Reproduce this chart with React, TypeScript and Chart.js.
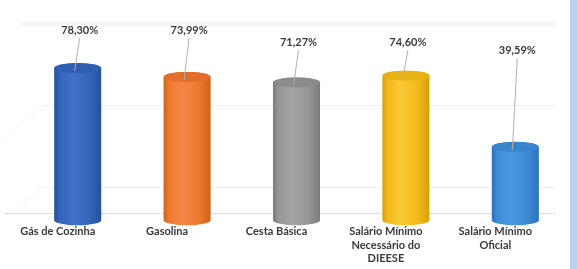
import React, { useEffect, useRef } from "react";
import { Chart, registerables } from "chart.js";

Chart.register(...registerables);

const categories: string[][] = [
  ["Gás de Cozinha"],
  ["Gasolina"],
  ["Cesta Básica"],
  ["Salário Mínimo", "Necessário do", "DIEESE"],
  ["Salário Mínimo", "Oficial"],
];
const values = [78.3, 73.99, 71.27, 74.6, 39.59];
const valueLabels = ["78,30%", "73,99%", "71,27%", "74,60%", "39,59%"];
const labelLevels = [97, 97, 91, 91, 87];
const gridValues = [20, 60, 100];

const palette = [
  { base: "#3365ba", light: "#3f72c8", dark: "#25509f", top: "#2f5eb0" },
  { base: "#ee7a2e", light: "#f3874a", dark: "#d0621c", top: "#e46c2c" },
  { base: "#979797", light: "#a3a3a3", dark: "#7b7b7b", top: "#8b8b8b" },
  { base: "#f3bb1c", light: "#f8c935", dark: "#d7a00b", top: "#e9b214" },
  { base: "#3d8bd6", light: "#4a99e0", dark: "#2c72bc", top: "#3884cd" },
];

const FONT = "Lato, 'Open Sans', sans-serif";

const cylinderPlugin = {
  id: "cylinders",
  beforeDatasetsDraw(chart: any) {
    const { ctx, chartArea, scales } = chart;
    const y = scales.y;
    ctx.save();
    gridValues.forEach((v) => {
      const py = y.getPixelForValue(v);
      if (v === 100) {
        ctx.fillStyle = "#f5f5f5";
        ctx.fillRect(chartArea.left - 3, py - 2, chartArea.right - 15 - chartArea.left + 3, 4);
      } else {
        ctx.strokeStyle = "#eeeeee";
        ctx.lineWidth = 1;
        ctx.beginPath();
        ctx.moveTo(chartArea.left + 20, Math.round(py) + 0.5);
        ctx.lineTo(chartArea.right - 15, Math.round(py) + 0.5);
        ctx.stroke();
      }
    });
    ctx.strokeStyle = "#f4f4f4";
    ctx.beginPath();
    const p60 = y.getPixelForValue(60);
    const p20 = y.getPixelForValue(20);
    ctx.moveTo(chartArea.left + 20, p60);
    ctx.lineTo(0, p60 + 36);
    ctx.moveTo(chartArea.left + 20, p20);
    ctx.lineTo(chartArea.left - 8, p20 + 24);
    ctx.stroke();
    ctx.strokeStyle = "#d2d2d2";
    ctx.setLineDash([3, 1]);
    ctx.beginPath();
    ctx.moveTo(5, Math.round(chartArea.bottom + 6) + 0.5);
    ctx.lineTo(chartArea.right - 15, Math.round(chartArea.bottom + 6) + 0.5);
    ctx.stroke();
    ctx.setLineDash([]);
    ctx.restore();
  },
  afterDatasetsDraw(chart: any) {
    const { ctx, scales } = chart;
    const y = scales.y;
    const meta = chart.getDatasetMeta(0);
    ctx.save();
    meta.data.forEach((el: any, i: number) => {
      const c = palette[i];
      const { x, width, base } = el;
      const top = el.y;
      const bottom = base - 7;
      const rx = width / 2;
      const ry = 5;
      const g = ctx.createLinearGradient(x - rx, 0, x + rx, 0);
      g.addColorStop(0, c.dark);
      g.addColorStop(0.12, c.base);
      g.addColorStop(0.4, c.light);
      g.addColorStop(0.75, c.base);
      g.addColorStop(1, c.dark);
      ctx.beginPath();
      ctx.moveTo(x - rx, top);
      ctx.lineTo(x - rx, bottom);
      ctx.ellipse(x, bottom, rx, ry, 0, Math.PI, 0, true);
      ctx.lineTo(x + rx, top);
      ctx.ellipse(x, top, rx, ry, 0, 0, Math.PI, true);
      ctx.closePath();
      ctx.fillStyle = g;
      ctx.fill();
      ctx.beginPath();
      ctx.ellipse(x, top, rx, ry, 0, 0, Math.PI * 2);
      ctx.fillStyle = c.top;
      ctx.fill();

      const ly = y.getPixelForValue(labelLevels[i]);
      const lx = x + 2;
      ctx.strokeStyle = "#b0b0b0";
      ctx.lineWidth = 1;
      ctx.beginPath();
      ctx.moveTo(lx, ly + 8);
      ctx.lineTo(x - 3, top + 3);
      ctx.stroke();
      ctx.font = `bold 11px ${FONT}`;
      ctx.fillStyle = "#3a3a3a";
      ctx.textAlign = "center";
      ctx.textBaseline = "middle";
      ctx.fillText(valueLabels[i], lx, ly);
    });
    ctx.restore();
  },
};

export default function App() {
  const ref = useRef<HTMLCanvasElement>(null);
  useEffect(() => {
    if (!ref.current) return;
    const chart = new Chart(ref.current, {
      type: "bar",
      data: {
        labels: categories,
        datasets: [
          {
            data: values,
            backgroundColor: "rgba(0,0,0,0)",
            borderWidth: 0,
            barPercentage: 0.43,
            categoryPercentage: 1,
          },
        ],
      },
      options: {
        animation: false,
        responsive: true,
        maintainAspectRatio: false,
        layout: { padding: { left: 23, right: 7, top: 24, bottom: 0 } },
        plugins: {
          legend: { display: false },
          tooltip: { enabled: false },
        },
        scales: {
          x: {
            grid: { display: false, drawTicks: false },
            border: { display: false },
            ticks: {
              color: "#3a3a3a",
              font: { family: FONT, size: 11, weight: "bold", lineHeight: 1.27 },
              padding: 17,
              labelOffset: -20,
              maxRotation: 0,
              autoSkip: false,
            },
            afterFit: (scale: any) => {
              scale.height = 62;
            },
          },
          y: {
            display: false,
            min: 10,
            max: 100,
          },
        },
      },
      plugins: [cylinderPlugin],
    });
    return () => chart.destroy();
  }, []);
  return (
    <div style={{ position: "fixed", left: 0, top: 0, width: 577, height: 269, background: "#fff" }}>
      <canvas ref={ref} />
      <div style={{ position: "absolute", left: 570, top: 0, width: 7, height: 269, background: "#b9d3ee" }} />
    </div>
  );
}
